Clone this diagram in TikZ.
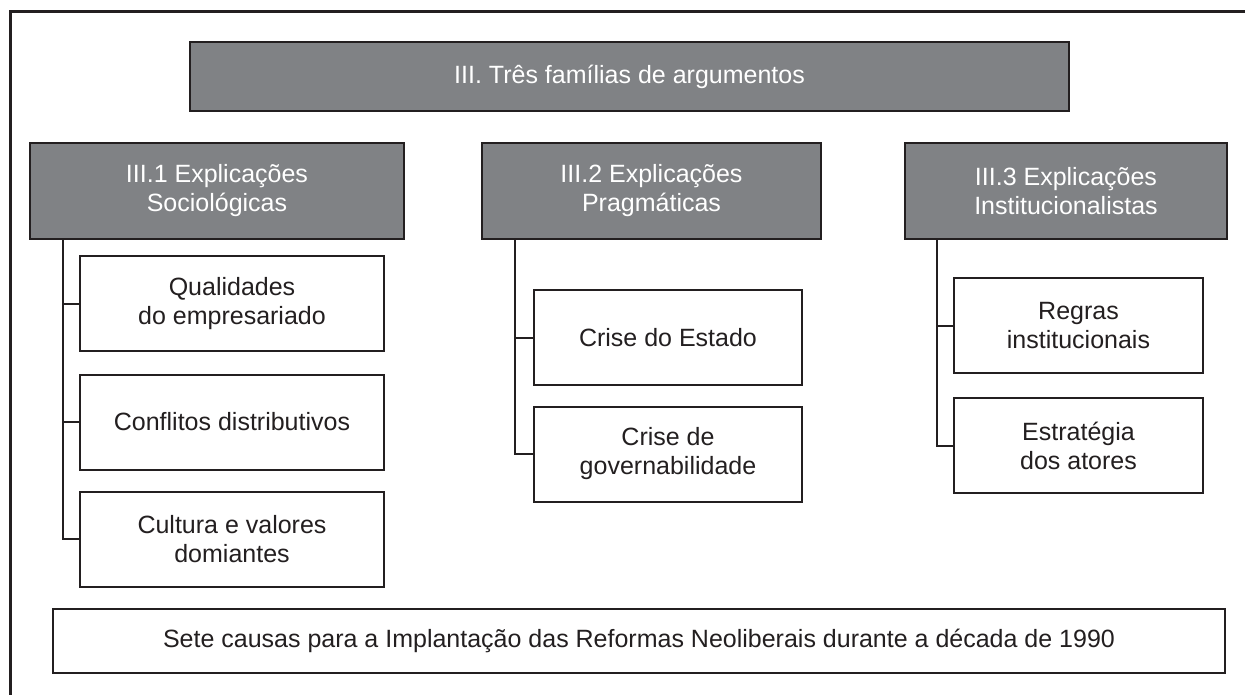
\documentclass[tikz,border=0pt]{standalone}
\usepackage{fontspec}
\setmainfont{Liberation Sans}
\definecolor{boxgray}{HTML}{808285}
\definecolor{ink}{HTML}{231F20}
\begin{document}
\begin{tikzpicture}[x=1pt,y=-1pt,semithick,
  head/.style={draw=ink,line width=2pt,fill=boxgray,text=white,align=center,inner sep=0pt,
    font=\fontsize{25}{29}\selectfont,minimum height=96pt},
  item/.style={draw=ink,line width=2pt,fill=white,text=ink,align=center,inner sep=0pt,
    font=\fontsize{25}{29}\selectfont,minimum height=95pt},
  link/.style={draw=ink,line width=2pt}]
\useasboundingbox (0,0) rectangle (1245,695);
\draw[ink,line width=3pt] (10,695) -- (10,12) -- (1245,12);
\node[head,minimum width=879pt,minimum height=69pt] (top) at (629.5,76.5) {III. Três famílias de argumentos};
\node[head,minimum width=374pt] (soc) at (217,191) {III.1 Explicações\\Sociológicas};
\node[head,minimum width=339pt] (prag) at (651.5,191) {III.2 Explicações\\Pragmáticas};
\node[head,minimum width=322pt] (inst) at (1066,191) {III.3 Explicações\\Institucionalistas};
\node[item,minimum width=304pt] (qual) at (232,303.5) {Qualidades\\do empresariado};
\node[item,minimum width=304pt] (conf) at (232,422) {Conflitos distributivos};
\node[item,minimum width=304pt] (cult) at (232,539) {Cultura e valores\\domiantes};
\node[item,minimum width=268pt] (est) at (668,337.5) {Crise do Estado};
\node[item,minimum width=268pt] (gov) at (668,454) {Crise de\\governabilidade};
\node[item,minimum width=249pt] (regr) at (1078.5,325.5) {Regras\\institucionais};
\node[item,minimum width=249pt] (estr) at (1078.5,445.5) {Estratégia\\dos atores};
\node[item,minimum width=1172pt,minimum height=64pt] (sete) at (639,641) {Sete causas para a Implantação das Reformas Neoliberais durante a década de 1990};
\coordinate (soc root) at (63,239);
\coordinate (prag root) at (515,239);
\coordinate (inst root) at (937,239);
\path[link] (soc root) |- (qual.west);
\path[link] (soc root) |- (conf.west);
\path[link] (soc root) |- (cult.west);
\path[link] (prag root) |- (est.west);
\path[link] (prag root) |- (gov.west);
\path[link] (inst root) |- (regr.west);
\path[link] (inst root) |- (estr.west);
\end{tikzpicture}
\end{document}
